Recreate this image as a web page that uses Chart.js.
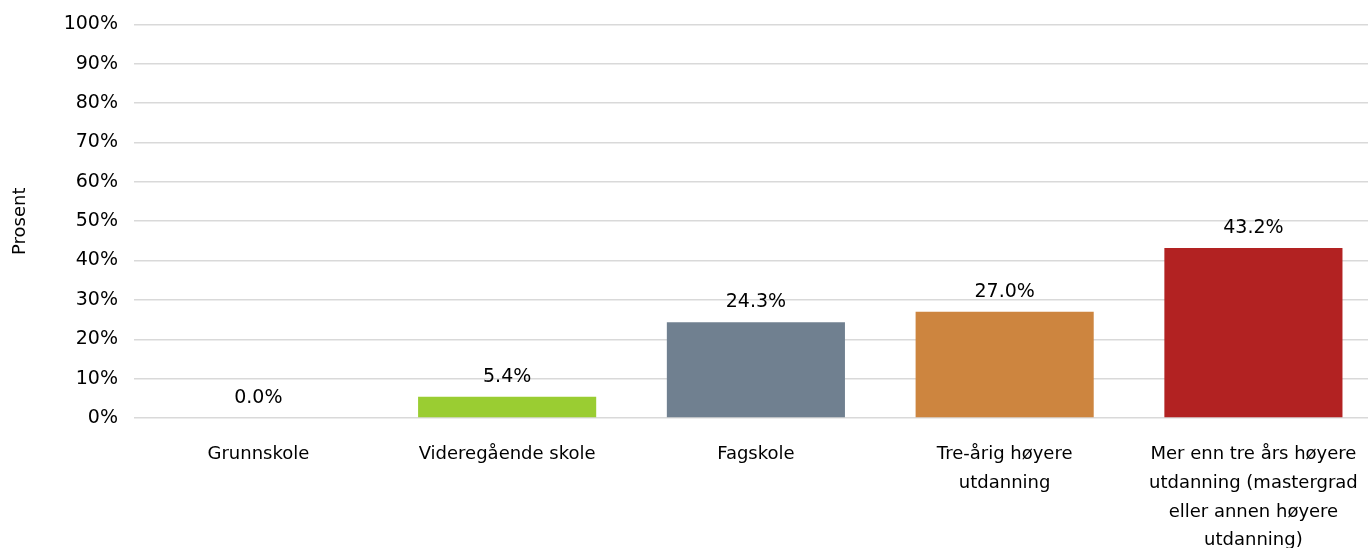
<!DOCTYPE html>
<html>
<head>
<meta charset="utf-8">
<script src="https://cdn.jsdelivr.net/npm/chart.js@4/dist/chart.umd.min.js"></script>
<style>
  html, body { margin: 0; padding: 0; background: #fff; overflow: hidden; }
  #wrap { width: 1380px; height: 548px; overflow: hidden; }
  #chart { margin-top: -3px; display: block; }
</style>
</head>
<body>
<div id="wrap"><canvas id="chart" width="1380" height="551"></canvas></div>
<script>
// === data ===
const categories = [
  "Grunnskole",
  "Videregående skole",
  "Fagskole",
  ["Tre-årig høyere", "utdanning"],
  ["Mer enn tre års høyere", "utdanning (mastergrad", "eller annen høyere", "utdanning)"]
];
const values = [0.0, 5.4, 24.3, 27.0, 43.2];
const barColors = ["#a5a5a5", "#9acd32", "#708090", "#cd853f", "#b22222"];
const yTicks = [0, 10, 20, 30, 40, 50, 60, 70, 80, 90, 100];

// === value labels above bars ===
const valueLabels = {
  id: "valueLabels",
  afterDatasetsDraw(chart) {
    const ctx = chart.ctx;
    const meta = chart.getDatasetMeta(0);
    ctx.save();
    ctx.font = "19px 'DejaVu Sans'";
    ctx.fillStyle = "#000";
    ctx.textAlign = "center";
    ctx.textBaseline = "middle";
    meta.data.forEach((bar, i) => {
      ctx.fillText(values[i].toFixed(1) + "%", bar.x, bar.y - 20);
    });
    ctx.restore();
  }
};

new Chart(document.getElementById("chart"), {
  type: "bar",
  data: {
    labels: categories,
    datasets: [{
      data: values,
      backgroundColor: barColors,
      borderWidth: 0,
      barPercentage: 0.716,
      categoryPercentage: 1
    }]
  },
  options: {
    responsive: false,
    animation: false,
    layout: { padding: { top: 22, right: 2, left: 0, bottom: 0 } },
    plugins: {
      legend: { display: false },
      tooltip: { enabled: false }
    },
    scales: {
      x: {
        grid: { display: false, drawTicks: false },
        border: { display: false },
        ticks: {
          color: "#000",
          font: { family: "DejaVu Sans", size: 18, lineHeight: 1.6 },
          padding: 22,
          maxRotation: 0,
          autoSkip: false
        },
        afterFit(scale) { scale.height = 130; }
      },
      y: {
        min: 0,
        max: 100,
        afterBuildTicks(scale) { scale.ticks = yTicks.map(v => ({ value: v })); },
        grid: { color: "#d9d9d9", lineWidth: 1.5, drawTicks: false },
        border: { display: false },
        ticks: {
          color: "#000",
          font: { family: "DejaVu Sans", size: 19 },
          padding: 16,
          callback: v => v + "%"
        },
        title: {
          display: true,
          text: "Prosent",
          color: "#000",
          font: { family: "DejaVu Sans", size: 18 },
          padding: { top: 10, bottom: 0 }
        },
        afterFit(scale) { scale.width = 134; }
      }
    }
  },
  plugins: [valueLabels]
});
</script>
</body>
</html>
